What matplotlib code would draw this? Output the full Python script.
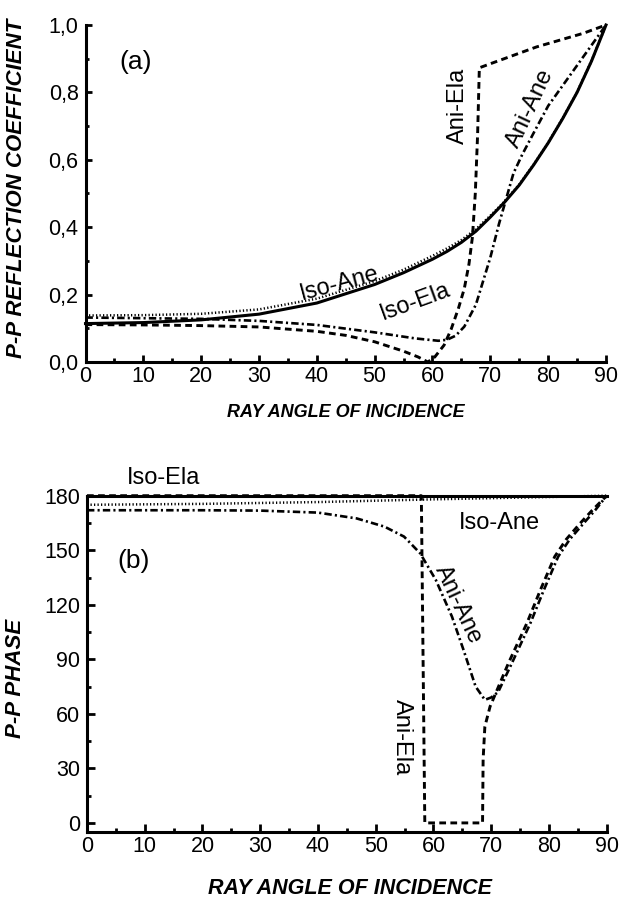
import matplotlib
matplotlib.use("Agg")
import matplotlib.pyplot as plt
import matplotlib.ticker as ticker

plt.rcParams['font.family'] = ['Liberation Sans', 'DejaVu Sans']

# ---- panel (a): P-P reflection coefficient ----
iso_ela_a_x = [0, 10, 20, 30, 40, 50, 55, 60, 62.5, 65, 67.5, 70, 72.5, 75, 77.5, 80, 82.5, 85, 87.5, 90]
iso_ela_a_y = [0.114, 0.117, 0.125, 0.142, 0.175, 0.230, 0.265, 0.305, 0.328, 0.355, 0.388, 0.430,
               0.475, 0.525, 0.585, 0.650, 0.722, 0.800, 0.893, 1.000]

iso_ane_a_x = [0, 10, 20, 30, 40, 50, 55, 60, 62.5, 65, 67.5, 70, 72.5, 75, 77.5, 80, 82.5, 85, 87.5, 90]
iso_ane_a_y = [0.138, 0.139, 0.143, 0.156, 0.188, 0.240, 0.274, 0.315, 0.337, 0.362, 0.394, 0.434,
               0.477, 0.527, 0.586, 0.651, 0.723, 0.801, 0.894, 1.000]

ani_ela_a_x = [0, 10, 20, 30, 40, 45, 50, 55, 57.5, 59.2, 60.4, 62, 63.2, 64.5, 65.5, 66.3, 66.9,
               67.4, 67.8, 68.1, 70, 74, 78, 82, 86, 90]
ani_ela_a_y = [0.111, 0.110, 0.108, 0.104, 0.091, 0.079, 0.060, 0.032, 0.015, 0.0, 0.015, 0.050,
               0.096, 0.160, 0.218, 0.290, 0.370, 0.500, 0.675, 0.873, 0.885, 0.910, 0.935, 0.955,
               0.975, 1.000]

ani_ane_a_x = [0, 10, 20, 30, 40, 50, 57, 61, 62.5, 64, 65.5, 67.5, 70, 71.5, 72.5, 74, 75.5, 77.5,
               80, 82.5, 85, 87.5, 90]
ani_ane_a_y = [0.132, 0.130, 0.128, 0.122, 0.110, 0.088, 0.070, 0.063, 0.066, 0.078, 0.105, 0.170,
               0.310, 0.410, 0.470, 0.560, 0.615, 0.680, 0.760, 0.820, 0.880, 0.940, 1.000]

# ---- panel (b): P-P phase ----
iso_ela_b_x = [0, 90]
iso_ela_b_y = [180, 180]

iso_ane_b_x = [0, 20, 40, 60, 80, 90]
iso_ane_b_y = [175, 175.5, 176.5, 178, 179.3, 180]

ani_ela_b_x = [0, 57.9, 58.0, 58.3, 58.5, 68.5, 68.6, 68.9, 69.8, 70.6, 73.0, 76.2, 78.5, 81.0,
               83.0, 85.4, 87.5, 90]
ani_ela_b_y = [180, 180, 150, 60, 0, 0, 35, 53, 64, 70, 88, 110, 128, 146.5, 156, 164.8, 172, 180]

ani_ane_b_x = [0, 20, 30, 40, 46.7, 51.5, 54.9, 57.7, 60.4, 63.2, 65.2, 67.3, 68.9, 70.0, 71.2,
               73.6, 76.8, 79.1, 81.6, 83.6, 86.0, 88.0, 90]
ani_ane_b_y = [172, 172, 171.8, 170.7, 167.5, 163, 157.5, 148.3, 133.7, 113.5, 95.2, 75, 67.7, 69,
               72, 88, 110, 128, 146.5, 156, 164.8, 172, 180]

fig = plt.figure(figsize=(6.21, 9.01), dpi=100)
ax1 = fig.add_axes([85.5 / 621, 1 - 362 / 901, 520.5 / 621, 337 / 901])
ax2 = fig.add_axes([87 / 621, 1 - 832 / 901, 519.7 / 621, 336.3 / 901])

solid = dict(color='black', lw=2.2, ls='-', clip_on=False, zorder=4)
dotted = dict(color='black', lw=1.8, dashes=(0.5, 0.9), clip_on=False, zorder=3)
dashed = dict(color='black', lw=2.1, dashes=(2.3, 1.5), clip_on=False, zorder=3)
dashdot = dict(color='black', lw=1.9, dashes=(2.8, 1.2, 0.8, 1.2), clip_on=False, zorder=3)

ax1.plot(ani_ela_a_x, ani_ela_a_y, **dashed)
ax1.plot(ani_ane_a_x, ani_ane_a_y, **dashdot)
ax1.plot(iso_ane_a_x, iso_ane_a_y, **dotted)
ax1.plot(iso_ela_a_x, iso_ela_a_y, **solid)

ax2.plot(ani_ela_b_x, ani_ela_b_y, **dashed)
ax2.plot(ani_ane_b_x, ani_ane_b_y, **dashdot)
ax2.plot(iso_ane_b_x, iso_ane_b_y, **dotted)
ax2.plot(iso_ela_b_x, iso_ela_b_y, **solid)

ax1.set_xlim(0, 90)
ax1.set_ylim(0, 1.0)
ax2.set_xlim(0, 90)
ax2.set_ylim(-5, 180)

for ax in (ax1, ax2):
    for s in ('top', 'right'):
        ax.spines[s].set_visible(False)
    for s in ('left', 'bottom'):
        ax.spines[s].set_linewidth(2.2)
    ax.xaxis.set_major_locator(ticker.MultipleLocator(10))
    ax.xaxis.set_minor_locator(ticker.MultipleLocator(5))
    ax.tick_params(which='both', direction='in', width=2, labelsize=15.5)

ax1.yaxis.set_major_locator(ticker.MultipleLocator(0.2))
ax1.yaxis.set_minor_locator(ticker.MultipleLocator(0.1))
ax1.yaxis.set_major_formatter(ticker.FuncFormatter(lambda v, p: ('%.1f' % v).replace('.', ',')))
ax1.tick_params(axis='y', which='major', length=4, pad=5)
ax1.tick_params(axis='y', which='minor', length=2.5)
ax1.tick_params(axis='x', which='major', length=5, pad=3)
ax1.tick_params(axis='x', which='minor', length=3)

ax2.yaxis.set_major_locator(ticker.FixedLocator([0, 30, 60, 90, 120, 150, 180]))
ax2.yaxis.set_minor_locator(ticker.FixedLocator([15, 45, 75, 105, 135, 165]))
ax2.tick_params(axis='both', which='major', length=5.5)
ax2.tick_params(axis='both', which='minor', length=3)
ax2.tick_params(axis='y', pad=5)
ax2.tick_params(axis='x', pad=3)

lab = dict(ha='center', va='center', rotation_mode='anchor', fontsize=17)
ax1.text(8.7, 0.89, '(a)', ha='center', va='center', fontsize=19)
ax1.text(43.9, 0.232, 'Iso-Ane', rotation=15, **lab)
ax1.text(57.0, 0.180, 'Iso-Ela', rotation=20, **lab)
ax1.text(64.4, 0.761, 'Ani-Ela', rotation=90, **lab)
ax1.text(76.9, 0.754, 'Ani-Ane', rotation=65, **lab)

ax2.text(8.0, 144, '(b)', ha='center', va='center', fontsize=19)
ax2.text(13.3, 189.7, 'Iso-Ela', **lab)
ax2.text(71.4, 165, 'Iso-Ane', **lab)
ax2.text(64.2, 120, 'Ani-Ane', rotation=-65, **lab)
ax2.text(54.5, 47, 'Ani-Ela', rotation=-90, **lab)

axlab = dict(ha='center', va='center', fontweight='bold', fontstyle='italic')
fig.text(346 / 621, 1 - 413 / 901, 'RAY ANGLE OF INCIDENCE', fontsize=13, **axlab)
fig.text(16.5 / 621, 1 - 188 / 901, 'P-P REFLECTION COEFFICIENT', rotation=90, fontsize=16, **axlab)
fig.text(349.6 / 621, 1 - 889 / 901, 'RAY ANGLE OF INCIDENCE', fontsize=15.5, **axlab)
fig.text(16 / 621, 1 - 678 / 901, 'P-P PHASE', rotation=90, fontsize=16, **axlab)

fig.savefig('out.png', dpi=100)
